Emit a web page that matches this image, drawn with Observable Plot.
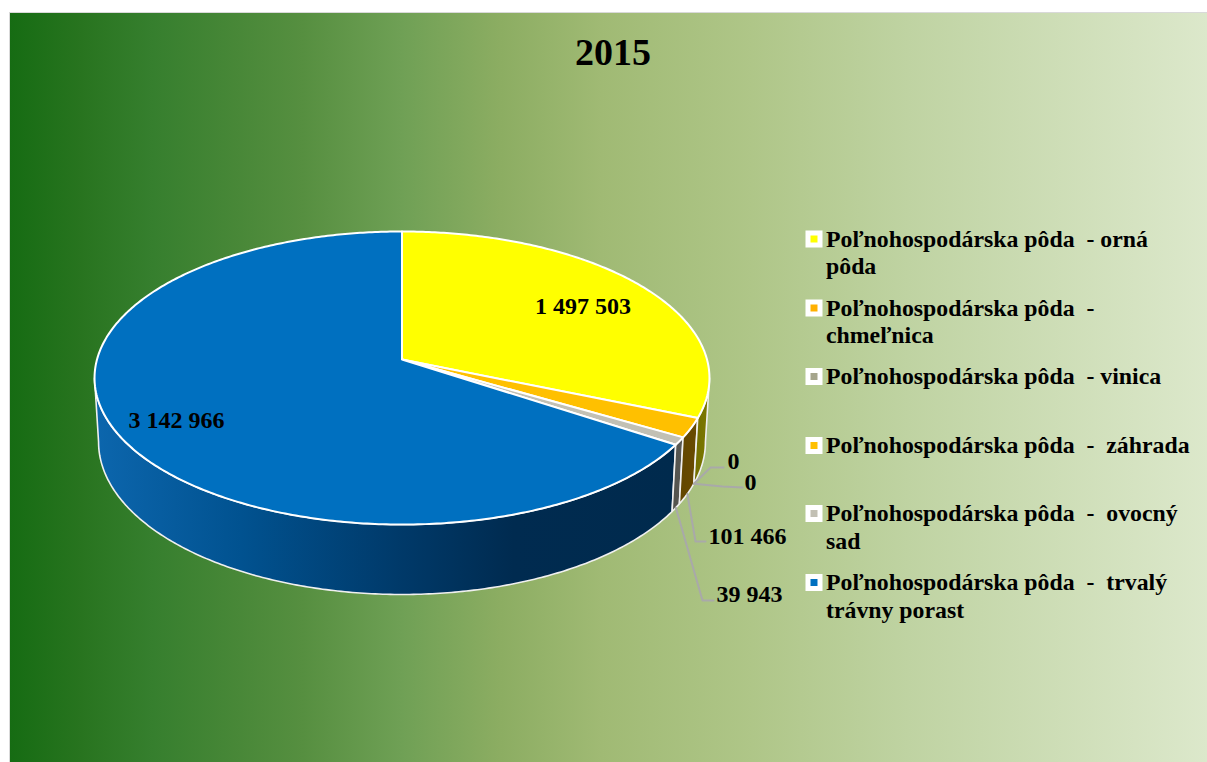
<!DOCTYPE html>
<html>
<head>
<meta charset="utf-8">
<script src="https://cdn.jsdelivr.net/npm/d3@7"></script>
<script src="https://cdn.jsdelivr.net/npm/@observablehq/plot@0.6"></script>
<style>
html,body{margin:0;padding:0;background:#fff;overflow:hidden}
svg{display:block}
</style>
</head>
<body>
<div id="chart"></div>
<script>
const title = "2015";
const categories = [
  "Poľnohospodárska pôda  - orná\npôda",
  "Poľnohospodárska pôda  -\nchmeľnica",
  "Poľnohospodárska pôda  - vinica",
  "Poľnohospodárska pôda  -  záhrada",
  "Poľnohospodárska pôda  -  ovocný\nsad",
  "Poľnohospodárska pôda  -  trvalý\ntrávny porast"
];
const values = [1497503, 0, 0, 101466, 39943, 3142966];
const valueLabels = ["1 497 503", "0", "0", "101 466", "39 943", "3 142 966"];
const topColors = ["#ffff00", "#ffb000", "#a5a58c", "#ffc000", "#c2c0b4", "#0070c0"];
const sideStops = [
  ["#7e7a00", "#5e5c00"],
  ["#8a6000", "#5e4200"],
  ["#707060", "#505045"],
  ["#6e4e00", "#5e4400"],
  ["#666662", "#52524c"],
  ["#0c66ad", "#002a4d"]
];

// pixel geometry of the tilted pie
const W = 1207, H = 762, ML = 9, MT = 12;
const cx = 401.5, cy = 359, ax = 305, by = 144.2, k = 0.1263;
const botAx = 301, botBy = 150, botCy = 422.3;
const X = px => (px - cx) / ax;
const Y = py => (cy - py) / by;

const total = d3.sum(values);
const proj = (t, plane) => {
  const u = Math.sin(t), v = Math.cos(t), w = 1 + k * v;
  return plane === "top"
    ? {x: u / w, y: v / w}
    : {x: (botAx / ax) * u / w, y: (botBy / by) * v / w - (botCy - cy) / by};
};

let acc = 0;
const slices = values.map((v, i) => {
  const a0 = acc / total * 2 * Math.PI; acc += v;
  const a1 = acc / total * 2 * Math.PI;
  return {i, name: categories[i], value: v, a0, a1, mid: (a0 + a1) / 2};
});
const arc = (a0, a1, plane) => {
  const n = Math.max(2, Math.ceil((a1 - a0) * 90));
  return d3.range(n + 1).map(j => proj(a0 + (a1 - a0) * j / n, plane));
};

const tR = Math.acos(-k), tL = 2 * Math.PI - tR; // silhouette angles
const topPts = slices.filter(s => s.value > 0).flatMap(s =>
  [{x: 0, y: 0}, ...arc(s.a0, s.a1, "top"), {x: 0, y: 0}].map(p => ({...p, name: s.name, i: s.i})));
const sidePolys = slices.filter(s => s.value > 0).map(s => {
  const a0 = Math.max(s.a0, tR), a1 = Math.min(s.a1, tL);
  const t = arc(a0, a1, "top"), b = arc(a0, a1, "bot").reverse();
  return {i: s.i, pts: [...t, ...b, t[0]]};
});

const labelRows = [
  {i: 0, x: X(582.5), y: Y(306)},
  {i: 5, x: X(176), y: Y(420)},
  {i: 1, x: X(733), y: Y(461)},
  {i: 2, x: X(750), y: Y(482)},
  {i: 3, x: X(747), y: Y(536)},
  {i: 4, x: X(749), y: Y(594)}
];
const leaders = [
  {i: 1, via: [[710, 467], [723, 467]]},
  {i: 2, via: [[722, 486], [742, 487]]},
  {i: 3, via: [[695, 541], [705, 541]]},
  {i: 4, via: [[702, 600], [713, 600]]}
].flatMap(l => {
  const s = slices[l.i];
  const p = proj(s.mid, "bot");
  return [p, ...l.via.map(([a, b]) => ({x: X(a), y: Y(b)}))].map(q => ({...q, i: l.i}));
});

const legendY = [238.5, 307.5, 376, 445, 513, 582];
const legend = categories.map((name, i) => ({name, y: Y(legendY[i]), x: X(813.5), tx: X(825.5)}));

const defs = () => {
  const svgNS = "http://www.w3.org/2000/svg";
  const d = document.createElementNS(svgNS, "defs");
  const grad = (id, x1, x2, stops) => {
    const g = document.createElementNS(svgNS, "linearGradient");
    g.setAttribute("id", id);
    g.setAttribute("gradientUnits", "userSpaceOnUse");
    g.setAttribute("x1", x1); g.setAttribute("x2", x2);
    g.setAttribute("y1", 0); g.setAttribute("y2", 0);
    stops.forEach(([o, c]) => {
      const s = document.createElementNS(svgNS, "stop");
      s.setAttribute("offset", o); s.setAttribute("stop-color", c);
      g.appendChild(s);
    });
    d.appendChild(g);
  };
  grad("bg", ML, W, [[0, "#166c13"], [0.06, "#28741f"], [0.12, "#367f2e"], [0.186, "#478737"], [0.245, "#568f40"], [0.327, "#6fa055"], [0.41, "#8cad62"], [0.494, "#a0ba74"], [0.62, "#afc688"], [0.75, "#bfd3a2"], [1, "#dce8cb"]]);
  sideStops.forEach((c, i) => {
    if (i === 5) grad("side5", 95, 675, [[0, "#0c66ad"], [0.25, "#015290"], [0.52, "#003a6a"], [0.72, "#002b50"], [1, "#002a4d"]]);
    else grad("side" + i, 670, 709, [[0, c[1]], [1, c[0]]]);
  });
  return d;
};

const serif = "'Liberation Serif','Times New Roman',serif";

const plot = Plot.plot({
  width: W, height: H,
  marginLeft: ML, marginTop: MT, marginRight: 0, marginBottom: 0,
  x: {domain: [X(ML), X(W)], axis: null},
  y: {domain: [Y(H), Y(MT)], axis: null},
  color: {type: "ordinal", domain: categories, range: topColors},
  style: {fontFamily: serif, background: "#fff"},
  marks: [
    defs,
    Plot.frame({fill: "url(#bg)", stroke: "#d9d9d9"}),
    ...[5, 4, 3, 0].map(i => {
      const p = sidePolys.find(s => s.i === i);
      return Plot.line(p.pts, {x: "x", y: "y", fill: `url(#side${i})`, stroke: "#f0f0f0", strokeWidth: 1.6});
    }),
    Plot.line(topPts, {x: "x", y: "y", z: "name", fill: "name", stroke: "#fff", strokeWidth: 2}),
    Plot.line(leaders, {x: "x", y: "y", z: "i", stroke: "#a9a9a9", strokeWidth: 2}),
    Plot.text(labelRows, {x: "x", y: "y", text: d => valueLabels[d.i], fontSize: 24, fontWeight: "bold", fill: "#000"}),
    Plot.text([title], {frameAnchor: "top", dx: 4.5, dy: 26, text: d => d, fontSize: 38, fontWeight: "bold", fill: "#000", lineAnchor: "top"}),
    Plot.dot(legend, {x: "x", y: "y", symbol: "square", r: 7.9, fill: "#fff", stroke: "#fff", strokeWidth: 3}),
    Plot.dot(legend, {x: "x", y: "y", symbol: "square", r: 3.95, fill: "name"}),
    Plot.text(legend, {x: "tx", y: "y", text: "name", textAnchor: "start", lineAnchor: "top", lineHeight: 1.155, fontSize: 23.8, fontWeight: "bold", fill: "#000", dy: -12})
  ]
});
document.getElementById("chart").appendChild(plot);
</script>
</body>
</html>
